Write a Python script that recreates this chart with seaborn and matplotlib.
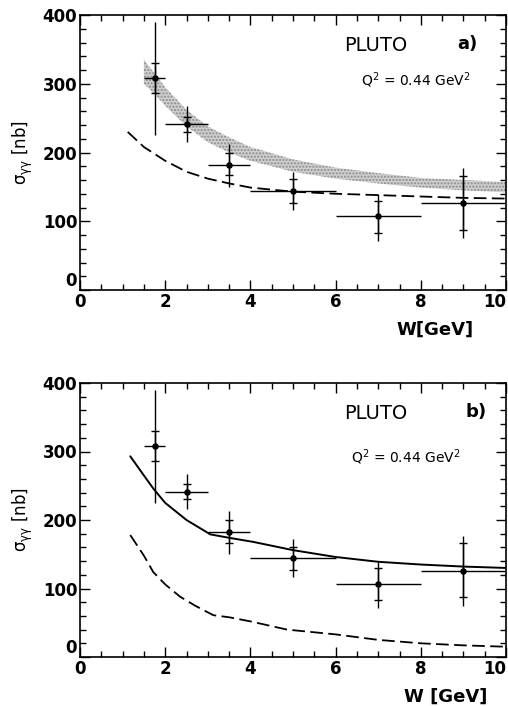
import numpy as np
import pandas as pd
import matplotlib
matplotlib.use("Agg")
import matplotlib.pyplot as plt
import seaborn as sns
from matplotlib.ticker import MultipleLocator

# ---- data ----
W = [1.75, 2.5, 3.5, 5.0, 7.0, 9.0]
sigma = [308, 241, 182, 144, 107, 126]
w_lo = [1.5, 2.0, 3.0, 4.0, 6.0, 8.0]
w_hi = [2.0, 3.0, 4.0, 6.0, 8.0, 10.0]
tot_hi = [390, 267, 213, 172, 139, 177]
tot_lo = [225, 216, 150, 117, 72, 75]
stat_hi = [330, 252, 200, 161, 130, 166]
stat_lo = [286, 230, 167, 127, 83, 88]

band_w = [1.5, 1.75, 2.0, 2.5, 3.0, 3.5, 4.0, 5.0, 6.0, 7.0, 8.0, 9.0, 10.0]
band_hi = [335, 315, 295, 262, 238, 222, 208, 190, 178, 170, 163, 160, 157]
band_lo = [300, 285, 268, 238, 215, 200, 188, 172, 162, 155, 149, 145, 142]

dash_a_w = [1.12, 1.5, 2.0, 2.5, 3.0, 3.5, 4.0, 5.0, 6.0, 7.0, 8.0, 9.0, 10.0]
dash_a_s = [230, 208, 188, 172, 162, 155, 149, 143, 140, 138, 136, 134, 133]

solid_b_w = [1.18, 1.5, 1.72, 2.0, 2.5, 3.06, 3.5, 4.07, 5.0, 6.0, 7.0, 8.0, 9.0, 10.0]
solid_b_s = [293, 265, 246, 225, 200, 179, 174, 168, 156, 146, 139, 135, 132, 130]

dash_b_w = [1.18, 1.5, 1.72, 2.0, 2.35, 2.7, 3.13, 3.5, 4.0, 4.86, 6.0, 7.0, 8.0, 9.0, 10.0]
dash_b_s = [178, 148, 124, 106, 88, 75, 61, 58, 52, 40, 33, 25, 20, 17, 15]

x_ticks = [0, 2, 4, 6, 8, 10]
y_ticks = [0, 100, 200, 300, 400]

sns.set_theme(style="ticks")
plt.rcParams['font.family'] = ['DejaVu Sans']
plt.rcParams['text.color'] = 'black'
plt.rcParams['xtick.color'] = 'black'
plt.rcParams['ytick.color'] = 'black'
plt.rcParams['axes.edgecolor'] = 'black'

fig = plt.figure(figsize=(5.08, 7.06), dpi=100)
ax_a = fig.add_axes([80/508, (706-290)/706, 426/508, 275/706])
ax_b = fig.add_axes([80/508, (706-657)/706, 426/508, 274/706])

def data_points(ax):
    df = pd.DataFrame({"W": W, "s": sigma})
    xerr = [np.array(W) - np.array(w_lo), np.array(w_hi) - np.array(W)]
    terr = [np.array(sigma) - np.array(tot_lo), np.array(tot_hi) - np.array(sigma)]
    serr = [np.array(sigma) - np.array(stat_lo), np.array(stat_hi) - np.array(sigma)]
    ax.errorbar(W, sigma, xerr=xerr, yerr=terr, fmt='none', ecolor='black',
                elinewidth=1.0, capsize=0, zorder=4)
    ax.errorbar(W, sigma, yerr=serr, fmt='none', ecolor='black',
                elinewidth=1.0, capsize=3, capthick=1.0, zorder=4)
    sns.scatterplot(data=df, x="W", y="s", ax=ax, color='black', s=22,
                    edgecolor='black', linewidth=0, zorder=5, legend=False)

def style(ax, lab, xlab, xlab_x):
    ax.set_xlim(0, 10)
    ax.set_ylim(0, 400)
    ax.set_xticks(x_ticks)
    ax.set_yticks(y_ticks)
    ax.xaxis.set_minor_locator(MultipleLocator(0.5))
    ax.yaxis.set_minor_locator(MultipleLocator(20))
    ax.tick_params(which='both', direction='in', top=True, right=True,
                   width=1.0, color='black', labelcolor='black')
    ax.tick_params(which='major', length=7, labelsize=12, pad=2)
    ax.tick_params(which='minor', length=4)
    for t in ax.get_xticklabels() + ax.get_yticklabels():
        t.set_fontweight('bold')
    ax.get_xticklabels()[-1].set_horizontalalignment('right')
    ax.get_xticklabels()[-1].set_x(10.12)
    ax.get_yticklabels()[0].set_verticalalignment('bottom')
    for sp in ax.spines.values():
        sp.set_linewidth(1.2)
        sp.set_color('black')
    ax.set_xlabel("")
    ax.set_ylabel("")
    ax.text(-0.135, 0.5, r"$\mathregular{\sigma_{\gamma\gamma}}$ [nb]", transform=ax.transAxes,
            rotation=90, ha='center', va='center', fontsize=12)
    ax.text(xlab_x, -0.145, xlab, transform=ax.transAxes, ha='center',
            va='center', fontsize=13, fontweight='bold')
    ax.text(6.2, 356, "PLUTO", fontsize=14, ha='left', va='center')
    ax.text(8.85 if lab == 'a)' else 9.05, 358, lab, fontsize=13,
            fontweight='bold', ha='left', va='center')
    ax.text(6.6 if lab == 'a)' else 6.35, 305 if lab == 'a)' else 292,
            r"Q$^2$ = 0.44 GeV$^2$", fontsize=10, ha='left', va='center')

# panel a
ax_a.fill_between(band_w, band_lo, band_hi, facecolor='#cfcfcf', edgecolor='#8a8a8a',
                  hatch='.....', linewidth=0, zorder=2)
sns.lineplot(x=dash_a_w, y=dash_a_s, ax=ax_a, color='black', linewidth=1.3, zorder=3)
ax_a.lines[-1].set_dashes([7, 3])
data_points(ax_a)
style(ax_a, 'a)', 'W[GeV]', 0.833)

# panel b
sns.lineplot(x=solid_b_w, y=solid_b_s, ax=ax_b, color='black', linewidth=1.4, zorder=3)
sns.lineplot(x=dash_b_w, y=dash_b_s, ax=ax_b, color='black', linewidth=1.3, zorder=3)
ax_b.lines[-1].set_dashes([7, 3])
data_points(ax_b)
style(ax_b, 'b)', 'W [GeV]', 0.859)

fig.savefig("out.png", dpi=100)
